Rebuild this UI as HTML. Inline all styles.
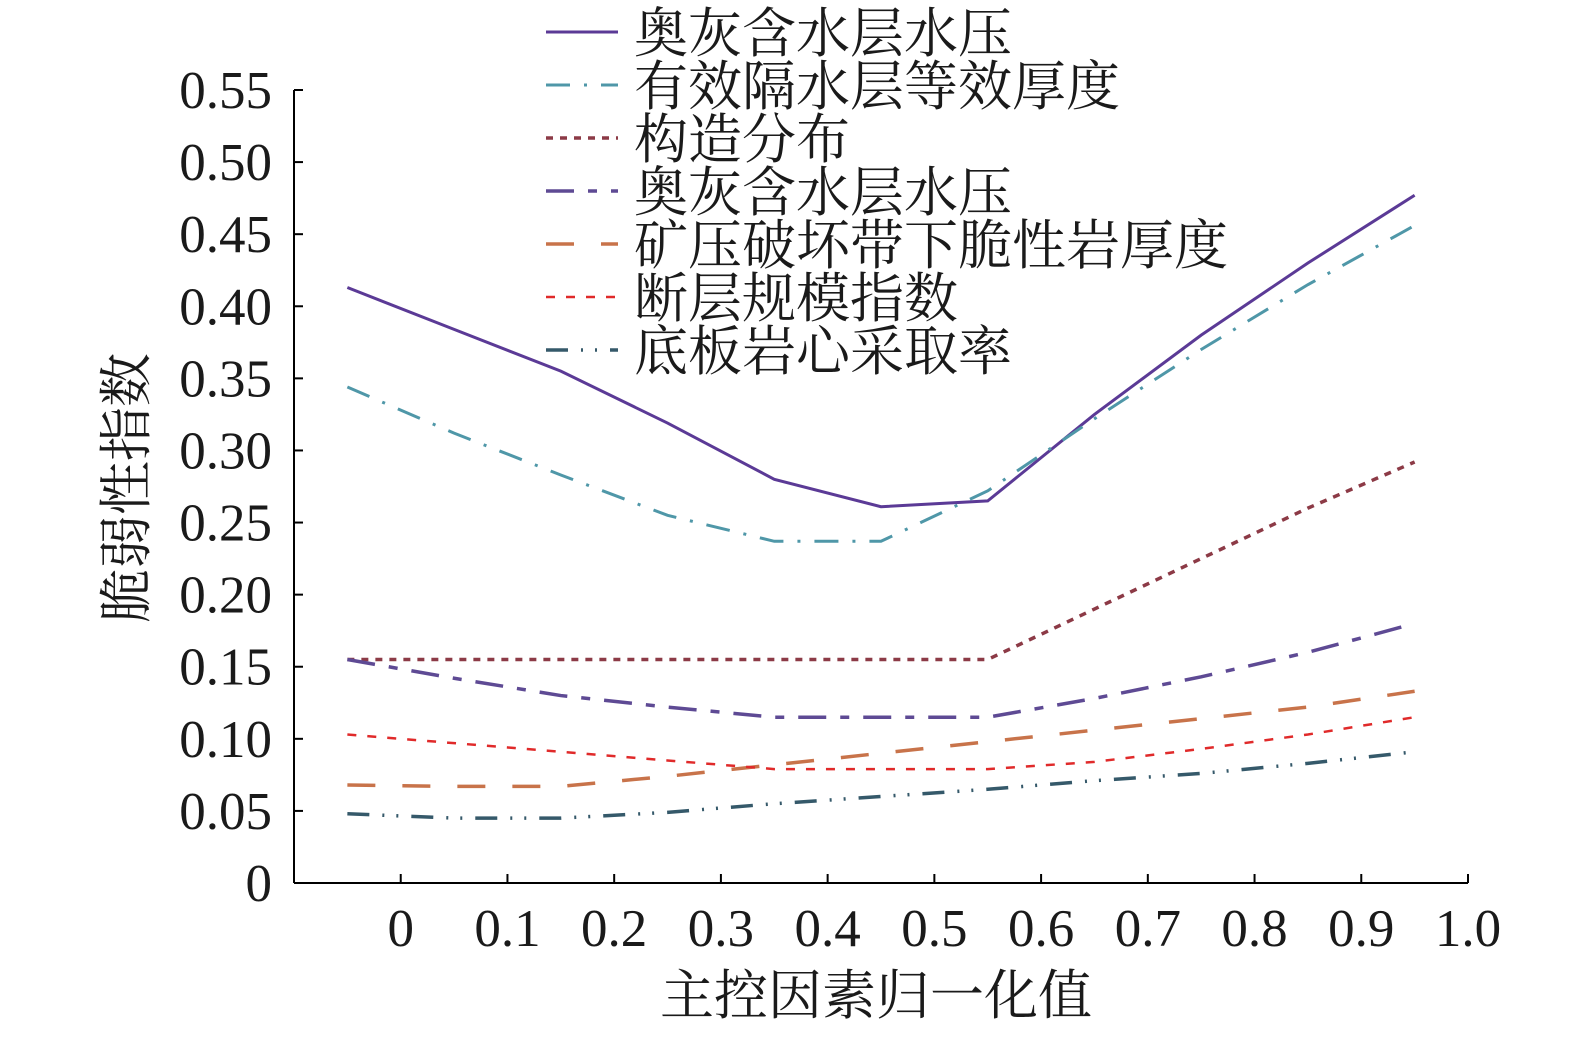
<!DOCTYPE html>
<html><head><meta charset="utf-8"><style>
html,body{margin:0;padding:0;background:#fff;}
svg text{font-family:"Liberation Serif","Noto Serif CJK SC",serif;fill:#1a1a1a;}
</style></head><body>
<svg id="chart" width="1575" height="1034" xmlns="http://www.w3.org/2000/svg"></svg>
<script>
const xValues=[-0.05,0.05,0.15,0.25,0.35,0.45,0.55,0.65,0.75,0.85,0.95];
const s1=[0.413,0.384,0.355,0.319,0.280,0.261,0.265,0.325,0.380,0.430,0.477];
const s2=[0.344,0.312,0.283,0.255,0.237,0.237,0.272,0.322,0.370,0.415,0.456];
const s3=[0.155,0.155,0.155,0.155,0.155,0.155,0.155,0.190,0.225,0.260,0.292];
const s4=[0.155,0.142,0.130,0.122,0.115,0.115,0.115,0.128,0.143,0.160,0.180];
const s5=[0.068,0.067,0.067,0.074,0.082,0.090,0.098,0.106,0.114,0.122,0.133];
const s6=[0.103,0.097,0.091,0.085,0.079,0.079,0.079,0.084,0.093,0.103,0.115];
const s7=[0.048,0.045,0.045,0.049,0.055,0.060,0.065,0.071,0.076,0.083,0.091];
const xTicks=[0,0.1,0.2,0.3,0.4,0.5,0.6,0.7,0.8,0.9,1.0];
const xTickLabels=["0","0.1","0.2","0.3","0.4","0.5","0.6","0.7","0.8","0.9","1.0"];
const yTicks=[0,0.05,0.1,0.15,0.2,0.25,0.3,0.35,0.4,0.45,0.5,0.55];
const yTickLabels=["0","0.05","0.10","0.15","0.20","0.25","0.30","0.35","0.40","0.45","0.50","0.55"];
const seriesNames=["奥灰含水层水压","有效隔水层等效厚度","构造分布","奥灰含水层水压","矿压破坏带下脆性岩厚度","断层规模指数","底板岩心采取率"];

const NS="http://www.w3.org/2000/svg";
const svg=document.getElementById('chart');
const X0=294,X1=1468,Y0=883,Y1=90;
const xs=v=>X0+(v+0.1)/1.1*(X1-X0);
const ys=v=>Y0-v/0.55*(Y0-Y1);
function mk(tag,attrs,parent){const e=document.createElementNS(NS,tag);for(const k in attrs)e.setAttribute(k,attrs[k]);(parent||svg).appendChild(e);return e;}

const axes=mk('g',{});


const ya=mk('line',{x1:X0,y1:Y1,x2:X0,y2:Y0,stroke:'#000','stroke-width':2},axes);


const xa=mk('line',{x1:X0,y1:Y0,x2:X1,y2:Y0,stroke:'#000','stroke-width':2},axes);


yTicks.forEach((v,i)=>{
  const y=ys(v);
  mk('line',{x1:X0,y1:y,x2:X0+9,y2:y,stroke:'#000','stroke-width':2},axes);
  const t=mk('text',{x:X0-22,y:y+18,'text-anchor':'end','font-size':53},axes);
  t.textContent=yTickLabels[i];
  
  
});
xTicks.forEach((v,i)=>{
  const x=xs(v);
  mk('line',{x1:x,y1:Y0,x2:x,y2:Y0-9,stroke:'#000','stroke-width':2},axes);
  const t=mk('text',{x:x,y:946,'text-anchor':'middle','font-size':53},axes);
  t.textContent=xTickLabels[i];
  
  
});
const xt=mk('text',{x:876,y:1014,'text-anchor':'middle','font-size':54});
xt.textContent='主控因素归一化值';


const yt=mk('text',{x:0,y:0,'text-anchor':'middle','font-size':54,transform:'translate(145,488) rotate(-90)'});
yt.textContent='脆弱性指数';



const styles=[
 {c:'#5b3a96',w:3,d:''},
 {c:'#4f97a8',w:3,d:'24 14 3 14'},
 {c:'#8c3a46',w:3.5,d:'7 7'},
 {c:'#5e4a94',w:3.5,d:'28 14 9 14'},
 {c:'#c8734a',w:3.5,d:'28 27'},
 {c:'#e02a2a',w:2.5,d:'9 11'},
 {c:'#35596a',w:3.5,d:'22 13 2 12 2 13'}
];
const data=[s1,s2,s3,s4,s5,s6,s7];
const names=['series-aohui-pressure','series-aquiclude-thickness','series-structure','series-aohui-pressure-2','series-brittle-thickness','series-fault-index','series-core-recovery'];
data.forEach((arr,i)=>{
  const p=mk('polyline',{points:arr.map((v,j)=>xs(xValues[j])+','+ys(v)).join(' '),fill:'none',stroke:styles[i].c,'stroke-width':styles[i].w,'stroke-dasharray':styles[i].d});
  
  
});
const lg=mk('g',{});


seriesNames.forEach((n,i)=>{
  const y=32+i*53;
  const g=mk('g',{},lg);
  
  
  mk('line',{x1:546,y1:y,x2:618,y2:y,stroke:styles[i].c,'stroke-width':styles[i].w,'stroke-dasharray':styles[i].d},g);
  const t=mk('text',{x:634,y:y+20,'font-size':54},g);
  t.textContent=n;
});
</script>
</body></html>
